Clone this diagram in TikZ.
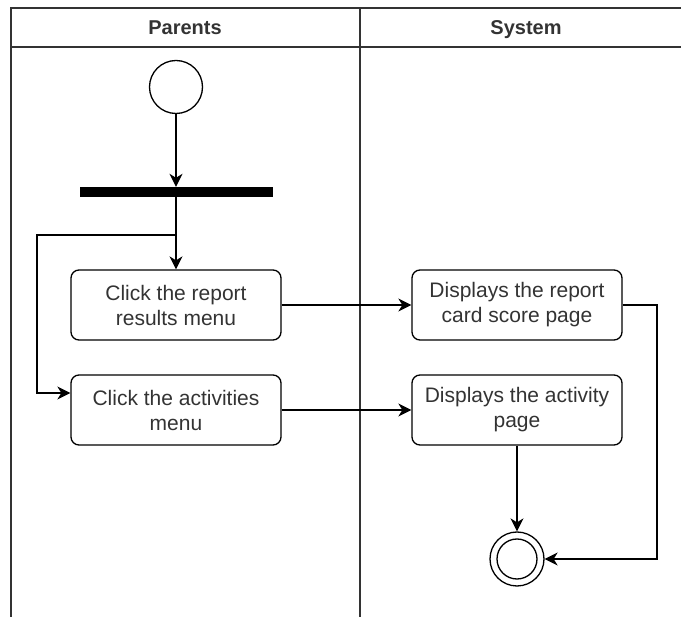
\documentclass[tikz,border=0pt]{standalone}
\usepackage{fontspec}
\setmainfont{Liberation Sans}
\usetikzlibrary{positioning,arrows.meta}

\begin{document}
\begin{tikzpicture}[x=1pt,y=-1pt,
  every node/.style={font=\fontsize{21}{25}\selectfont,text=black!80},
  lane/.style={draw=black!80,line width=1.6pt},
  lanetitle/.style={font=\fontsize{20}{24}\selectfont\bfseries,anchor=base},
  action/.style={draw,rounded corners=8pt,line width=1.3pt,minimum width=210pt,minimum height=70pt,align=center,inner sep=0pt},
  startstate/.style={draw,circle,line width=1.3pt,minimum size=53pt,inner sep=0pt},
  arrow/.style={-{Stealth[length=13pt,width=13pt,inset=4pt]},line width=1.3pt}
]
  \useasboundingbox (0,0) rectangle (681,617);
  % swimlanes
  \draw[lane] (681,8) -- (11,8) -- (11,617);
  \draw[lane] (11,47) -- (681,47);
  \draw[lane] (360,8) -- (360,617);
  \node[lanetitle] (parents) at (185,34.5) {Parents};
  \node[lanetitle] (system) at (526,34.5) {System};

  \node[startstate] (start) at (176,87) {};
  \node[fill=black,minimum width=193pt,minimum height=10pt,inner sep=0pt] (fork) at (176,192) {};
  \node[action] (report) at (176,305) {Click the report\\results menu};
  \node[action] (activities) at (176,410) {Click the activities\\menu};
  \node[action] (cardpage) at (517,305) {Displays the report\\card score page};
  \node[action] (activitypage) at (517,410) {Displays the activity\\page};
  \node[startstate,minimum size=54pt] (final) at (517,559) {};
  \node[startstate,minimum size=40pt] (finalin) at (final) {};

  \coordinate (split) at (176,235);
  \coordinate (loop) at (37,235);
  \coordinate (turn) at (657,305);

  \draw[arrow] (start) -- (fork);
  \draw[arrow] (fork) -- (report);
  \draw[arrow] (split) -- (loop) |- ([yshift=17pt]activities.west);
  \draw[arrow] (report) -- (cardpage);
  \draw[arrow] (activities) -- (activitypage);
  \draw[arrow] (activitypage) -- (final);
  \draw[arrow] (cardpage) -- (turn) |- (final);
\end{tikzpicture}
\end{document}
